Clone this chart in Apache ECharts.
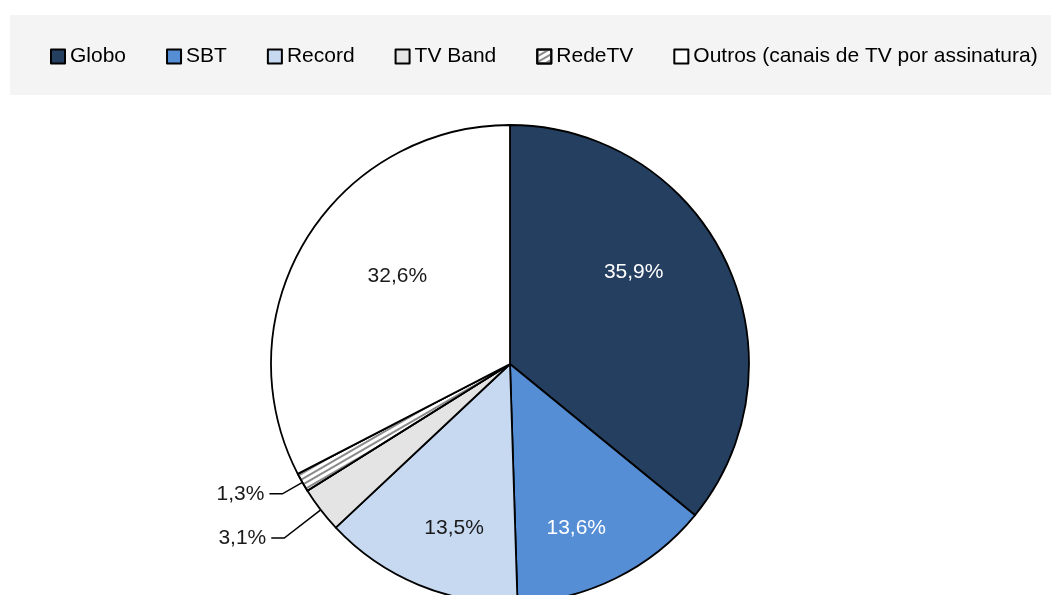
<!DOCTYPE html>
<html>
<head>
<meta charset="utf-8">
<script src="https://cdn.jsdelivr.net/npm/echarts@6/dist/echarts.min.js"></script>
<style>
  html, body { margin: 0; padding: 0; background: #fff; }
  #chart { width: 1051px; height: 595px; }
</style>
</head>
<body>
<div id="chart"></div>
<script>
// emissoras
const categories = ['Globo', 'SBT', 'Record', 'TV Band', 'RedeTV', 'Outros (canais de TV por assinatura)']
// participação (%)
const shares = [35.9, 13.6, 13.5, 3.1, 1.3, 32.6]
const sliceColors = ['#253f61', '#558ed5', '#c6d9f1', '#e4e4e4', '#ffffff', '#ffffff']
const labelColors = ['#ffffff', '#ffffff', '#1a1a1a', '#1a1a1a', '#1a1a1a', '#1a1a1a']

// deslocamento dos rótulos internos (estilo Excel)
const labelShift = { 0: [13, -39], 1: [12, 54], 2: [-9, 51], 5: [-8, -24] }

const chart = echarts.init(document.getElementById('chart'))

const pieData = categories.map((name, i) => {
  const outside = i === 3 || i === 4
  const item = {
    name: name,
    value: shares[i],
    itemStyle: { color: sliceColors[i] },
    label: {
      position: outside ? 'outside' : 'inside',
      color: labelColors[i]
    },
    labelLine: {
      show: outside,
      length: i === 3 ? 46 : 23,
      length2: 13
    }
  }
  if (i === 4) {
    item.itemStyle.decal = {
      symbol: 'rect',
      symbolSize: 1,
      dashArrayX: [1, 0],
      dashArrayY: [2, 3],
      rotation: -Math.PI / 6,
      color: '#8a8a8a'
    }
  }
  return item
})

const option = {
  animation: false,
  textStyle: { fontFamily: 'Liberation Sans, Arial, sans-serif' },
  graphic: [
    {
      type: 'rect',
      left: 10,
      top: 15,
      z: -10,
      shape: { width: 1041, height: 80 },
      style: { fill: '#f4f4f4' }
    }
  ],
  legend: {
    data: categories,
    left: 45,
    top: 41,
    icon: 'rect',
    itemWidth: 14,
    itemHeight: 14,
    itemGap: 40,
    itemStyle: { borderColor: '#000', borderWidth: 2 },
    textStyle: { fontSize: 21, color: '#000' }
  },
  series: [
    {
      type: 'pie',
      center: [510, 364],
      radius: 239,
      startAngle: 90,
      clockwise: true,
      avoidLabelOverlap: true,
      data: pieData,
      itemStyle: { borderColor: '#000', borderWidth: 1.8 },
      label: {
        fontSize: 21,
        formatter: p => p.value.toFixed(1).replace('.', ',') + '%'
      },
      labelLine: {
        lineStyle: { color: '#000', width: 1.5 }
      },
      labelLayout: function (params) {
        const s = labelShift[params.dataIndex]
        return s ? { dx: s[0], dy: s[1] } : {}
      }
    }
  ]
}

chart.setOption(option)
</script>
</body>
</html>
